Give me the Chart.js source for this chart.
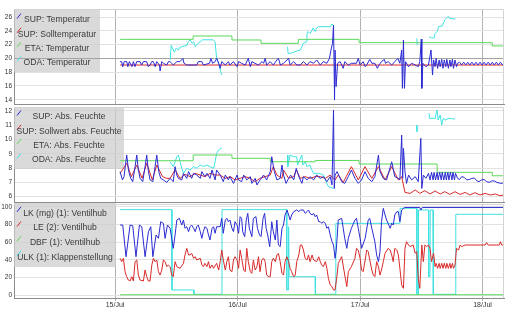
<!DOCTYPE html>
<html>
<head>
<meta charset="utf-8">
<script src="https://cdn.jsdelivr.net/npm/chart.js@4.4.0/dist/chart.umd.min.js"></script>
<style>
html, body { margin: 0; padding: 0; background: #fff; }
#wrap { position: relative; width: 508px; height: 322px; }
canvas { position: absolute; left: 0; top: 0; }
</style>
</head>
<body>
<div id="wrap">
  <canvas id="tempChart" width="508" height="322"></canvas>
  <canvas id="humChart" width="508" height="322"></canvas>
  <canvas id="valveChart" width="508" height="322"></canvas>
</div>
<script>
// x values are hours since 15/Jul 00:00
const dayTicks = [0, 24, 48, 72];
const dayLabels = ['15/Jul', '16/Jul', '17/Jul', '18/Jul'];
const seriesColors = ['#2a2ad2', '#d82a2a', '#5cd85c', '#40e2e2'];

// --- panel 1: temperatures ---
const tempLabels = ['SUP: Temperatur', 'SUP: Solltemperatur', 'ETA: Temperatur', 'ODA: Temperatur'];
const tempTicks = [14, 16, 18, 20, 22, 24, 26];
const supTemp = [[0.98,19.53],[1.3,19.53],[1.5,18.8],[1.8,19.53],[2.3,19.53],[2.5,18.8],[2.8,19.53],[3.3,18.8],[3.6,19.53],[3.9,18.8],[4.25,19.53],[4.9,19.53],[5.2,19.04],[5.55,19.53],[6.2,19.53],[6.5,18.8],[6.86,19.04],[7.2,19.53],[7.51,19.53],[7.85,18.8],[8.17,19.53],[8.7,19.04],[8.82,18.17],[9.15,19.53],[9.47,19.29],[10.13,19.04],[10.45,19.53],[10.78,19.53],[11.1,19.29],[11.4,19.04],[12.1,19.53],[12.7,19.53],[13.3,20.0],[13.5,19.29],[14.05,19.04],[15.4,19.04],[16.0,19.04],[16.3,19.53],[17.0,19.53],[17.3,19.04],[18.5,19.29],[18.8,20.0],[19.1,19.29],[19.6,19.53],[19.9,20.0],[20.3,19.29],[20.6,18.56],[20.9,19.53],[21.6,19.04],[22.2,19.53],[22.5,19.04],[23.2,19.53],[23.9,18.8],[24.2,19.53],[24.8,19.29],[25.5,19.04],[26.1,20.0],[26.5,18.8],[26.8,19.53],[27.4,19.29],[28.1,19.04],[28.8,19.53],[29.1,19.29],[29.4,20.0],[29.7,19.04],[30.4,19.53],[31.0,19.04],[31.7,19.77],[32.0,20.0],[32.4,19.04],[33.0,19.29],[34.0,20.0],[34.3,19.04],[35.0,19.53],[35.6,19.04],[36.3,19.04],[36.9,19.53],[37.6,19.04],[38.2,19.53],[38.9,19.29],[39.5,19.77],[40.2,19.04],[40.8,19.53],[41.5,19.29],[42.0,20.0],[42.3,21.2],[42.6,22.2],[42.8,24.8],[43.0,14.0],[43.1,21.2],[43.3,15.9],[43.6,19.29],[44.1,19.53],[44.4,19.04],[44.7,18.56],[45.0,19.53],[45.7,19.04],[46.3,19.29],[47.3,19.29],[47.65,20.0],[48.0,19.04],[48.6,19.53],[49.0,18.8],[49.3,19.04],[49.9,19.86],[50.3,19.29],[50.9,19.29],[51.4,18.56],[51.7,19.04],[52.2,19.53],[52.75,19.86],[53.0,19.29],[53.5,19.53],[54.2,19.04],[54.8,19.53],[55.4,20.0],[55.8,19.29],[56.15,21.22],[56.3,15.66],[56.5,22.67],[56.7,15.66],[56.9,19.53],[57.5,18.8],[58.1,19.29],[58.8,19.04],[59.4,18.8],[59.7,19.53],[60.0,22.81],[60.1,15.66],[60.3,19.29],[60.9,18.8],[61.4,19.04],[61.9,21.22],[62.2,17.6],[62.4,19.77],[62.7,18.8],[62.9,20.0],[63.2,18.56],[63.5,19.77],[63.7,18.8],[64.0,19.86],[64.25,18.56],[64.5,19.77],[64.8,18.8],[65.0,19.86],[65.3,18.56],[65.6,19.77],[65.8,18.8],[66.1,19.86],[66.3,18.56],[66.6,19.77],[66.9,18.8],[67.1,19.29],[67.5,19.45],[67.9,19.05],[68.3,19.45],[68.7,19.05],[69.1,19.45],[69.5,19.05],[69.9,19.45],[70.3,19.05],[70.7,19.45],[71.1,19.05],[71.5,19.45],[71.9,19.05],[72.3,19.45],[72.7,19.05],[73.1,19.45],[73.5,19.05],[73.9,19.45],[74.3,19.05],[74.7,19.45],[75.1,19.05],[75.5,19.45],[75.9,19.05],[76.2,19.3]];
const supSollTemp = [[1.0,19.04],[76.2,19.04]];
const etaTemp = [[1.0,22.76],[15.3,23.25],[22.9,22.67],[28.6,22.18],[35.9,22.76],[47.8,22.28],[73.9,21.8],[76.2,21.8]];
const odaTemp = [[10.8,19.8],[11.0,21.9],[11.6,20.9],[12.0,21.5],[12.4,21.2],[12.7,21.6],[13.1,21.7],[14.1,21.9],[14.3,22.4],[14.7,22.7],[15.1,22.2],[15.4,22.4],[15.7,21.7],[16.3,22.2],[16.7,22.4],[17.1,22.7],[19.2,22.7],[19.6,22.4],[19.9,20.0],[20.2,19.5],[20.6,18.3],[20.9,17.6],[21.0,null],[33.8,21.7],[33.9,20.7],[34.7,20.8],[35.7,21.1],[36.3,21.2],[36.6,21.7],[36.9,22.2],[37.5,22.4],[37.6,23.6],[37.8,23.9],[38.2,23.6],[38.6,24.1],[38.8,24.4],[39.2,23.9],[39.5,24.4],[39.9,24.6],[42.2,24.6],[42.5,25.0],[42.8,24.7],[43.0,null],[59.1,22.9],[59.2,21.9],[59.3,null],[61.5,23.15],[62.0,22.96],[62.5,22.96],[62.7,23.6],[63.1,23.9],[63.4,24.6],[64.1,24.7],[64.6,25.6],[65.3,26.1],[65.5,25.8],[66.7,25.7]];

// --- panel 2: absolute humidity ---
const humLabels = ['SUP: Abs. Feuchte', 'SUP: Sollwert abs. Feuchte', 'ETA: Abs. Feuchte', 'ODA: Abs. Feuchte'];
const humTicks = [6, 7, 8, 9, 10, 11, 12];
const supHum = [[0.98,7.75],[1.44,7.17],[1.76,7.4],[2.28,8.91],[2.68,7.75],[3.07,7.28],[3.46,7.05],[3.92,8.1],[4.25,8.91],[4.57,7.86],[4.9,7.28],[5.42,7.05],[5.88,8.1],[6.2,8.91],[6.54,7.75],[6.86,7.17],[7.4,7.05],[7.84,8.1],[8.17,8.91],[8.56,7.75],[8.95,7.28],[9.47,7.17],[10.13,7.0],[10.78,7.28],[11.4,7.05],[11.76,8.1],[12.1,7.51],[12.4,7.28],[13.07,7.17],[13.4,7.63],[14.05,7.28],[14.4,7.75],[15.0,7.28],[15.4,7.63],[16.0,7.51],[16.7,7.28],[17.0,7.75],[17.6,7.4],[18.0,7.63],[18.6,7.28],[19.0,7.86],[19.6,7.17],[19.9,7.86],[20.6,7.51],[21.2,7.05],[21.6,7.51],[22.2,7.17],[22.5,7.4],[23.2,6.93],[23.9,7.51],[24.2,7.17],[24.8,7.05],[25.2,7.51],[25.8,7.17],[26.5,7.4],[26.8,6.93],[27.45,7.28],[27.8,6.82],[28.4,7.17],[29.1,7.51],[29.7,7.17],[30.4,7.75],[30.7,8.79],[31.2,7.75],[31.7,7.17],[32.35,7.28],[32.7,8.21],[33.0,7.51],[33.5,6.93],[34.0,7.28],[34.4,7.51],[35.0,7.17],[35.5,7.98],[36.0,7.4],[36.6,6.93],[36.9,7.4],[37.6,7.17],[38.2,7.4],[38.9,7.17],[39.5,7.51],[40.2,7.28],[40.8,7.4],[41.5,7.05],[42.15,7.4],[42.5,6.82],[42.8,12.05],[42.95,6.58],[43.1,7.51],[43.5,7.75],[44.4,7.05],[45.0,6.93],[45.7,7.4],[46.3,7.86],[47.0,7.28],[47.65,6.93],[48.3,7.17],[48.96,7.75],[49.6,7.28],[50.3,7.05],[50.9,7.4],[51.6,8.91],[51.9,7.75],[52.55,7.28],[53.2,7.17],[54.2,8.44],[54.8,7.4],[55.5,7.28],[55.8,7.17],[56.15,10.3],[56.35,7.28],[56.5,9.37],[56.8,7.75],[57.1,6.93],[57.5,7.51],[58.1,7.17],[58.8,7.4],[59.4,7.05],[59.9,10.07],[60.1,6.58],[60.4,7.51],[60.9,7.28],[61.4,7.63],[61.7,7.17],[62.0,7.7],[62.3,7.17],[62.5,7.7],[62.8,7.17],[63.1,7.7],[63.3,7.17],[63.6,7.7],[63.9,7.17],[64.1,7.7],[64.4,7.17],[64.7,7.7],[64.9,7.17],[65.2,7.7],[65.4,7.17],[65.7,7.7],[66.0,7.17],[66.2,7.7],[66.5,7.17],[66.7,7.63],[67.1,7.28],[67.5,7.2],[67.9,7.4],[68.4,7.35],[68.9,7.17],[69.4,7.2],[69.9,7.28],[70.4,7.3],[70.9,7.1],[71.3,7.05],[71.8,7.17],[72.3,7.2],[72.8,7.05],[73.3,7.0],[73.8,7.1],[74.3,7.1],[74.8,7.0],[75.3,6.95],[75.8,6.93],[76.2,7.0]];
const supSollHum = [[0.98,7.63],[2.3,8.33],[3.2,7.4],[4.25,8.21],[5.3,7.28],[6.2,8.33],[7.3,7.17],[8.17,8.21],[9.3,7.4],[10.13,7.28],[10.78,7.28],[11.76,7.86],[12.74,7.28],[13.72,7.56],[14.7,7.4],[15.68,7.63],[16.66,7.51],[17.64,7.4],[18.62,7.63],[19.6,7.51],[20.58,7.51],[21.56,7.28],[22.54,7.4],[23.5,7.17],[24.5,7.28],[25.5,7.4],[26.47,7.28],[27.45,7.05],[28.4,7.28],[29.4,7.4],[30.4,7.51],[31.0,8.1],[31.7,7.51],[32.7,7.28],[33.0,7.86],[34.0,7.28],[35.0,7.4],[35.5,7.86],[36.3,7.28],[37.25,7.4],[38.2,7.28],[39.2,7.4],[40.2,7.4],[41.2,7.28],[42.15,7.51],[43.1,7.17],[43.73,7.51],[44.7,7.0],[46.3,8.1],[47.65,7.17],[48.96,8.1],[50.3,7.28],[51.6,8.1],[52.9,7.17],[54.2,8.1],[55.5,7.17],[56.15,7.4],[56.8,6.3],[57.8,6.23],[58.8,6.47],[59.7,6.23],[60.7,6.42],[61.7,6.19],[62.7,6.4],[63.7,6.19],[64.6,6.35],[65.6,6.16],[66.6,6.35],[67.6,6.16],[68.6,6.3],[69.5,6.12],[70.5,6.28],[71.5,6.12],[72.5,6.23],[73.5,6.12],[74.5,6.19],[75.4,6.07],[76.2,6.12]];
const etaHum = [[1.0,8.51],[15.3,8.91],[22.9,8.68],[30.4,8.44],[39.2,8.53],[47.8,8.28],[63.1,7.7],[73.9,7.46],[76.2,7.46]];
const odaHum = [[10.78,8.44],[11.4,8.1],[12.1,8.79],[12.4,8.91],[12.74,8.44],[13.07,7.98],[13.4,7.63],[14.05,7.98],[14.7,7.86],[15.4,8.1],[16.0,7.98],[16.66,8.21],[17.3,8.1],[18.0,8.21],[18.6,8.1],[19.3,7.98],[19.6,8.44],[19.9,9.03],[20.3,9.26],[20.6,9.37],[20.9,9.37],[21.0,null],[33.8,8.91],[33.85,8.1],[34.3,8.91],[35.0,8.79],[35.6,8.79],[35.75,8.21],[36.6,8.91],[36.8,8.21],[37.25,8.44],[37.6,8.1],[38.2,8.21],[38.55,7.86],[38.9,7.63],[39.9,7.63],[40.85,7.51],[41.5,6.93],[41.8,6.7],[42.8,6.58],[43.0,null],[59.1,11.0],[59.15,10.54],[59.3,null],[61.5,11.82],[61.6,11.47],[62.7,11.47],[62.8,11.7],[63.1,12.05],[63.3,11.35],[63.7,11.7],[64.0,11.0],[64.3,11.47],[64.8,11.35],[65.3,11.47],[66.6,11.42]];

// --- panel 3: valves ---
const valveLabels = ['LK (mg) (1): Ventilhub', 'LE (2): Ventilhub', 'DBF (1): Ventilhub', 'ULK (1): Klappenstellung'];
const valveTicks = [0, 20, 40, 60, 80, 100];
const lkValve = [[0.98,79.5],[1.5,79.5],[2.15,43.5],[2.94,79.5],[3.46,78.8],[4.1,43.5],[4.77,79.5],[5.23,77.6],[5.88,43.5],[6.54,72.0],[7.0,77.6],[7.4,43.5],[8.04,68.2],[8.5,64.4],[8.95,83.3],[9.47,81.4],[9.8,64.4],[10.26,79.5],[10.78,75.8],[11.3,56.8],[11.4,53.0],[11.76,68.2],[12.1,85.2],[12.6,87.1],[13.07,79.5],[13.4,85.2],[13.7,75.8],[14.05,77.6],[14.4,72.0],[14.7,77.6],[15.0,79.5],[15.4,75.8],[15.7,72.0],[16.0,77.6],[16.3,79.5],[16.7,72.0],[17.0,64.4],[17.3,72.0],[17.6,77.6],[18.0,75.8],[18.3,68.2],[18.6,62.5],[19.0,75.8],[19.3,77.6],[19.6,70.1],[19.9,77.6],[20.6,77.6],[20.9,87.1],[21.2,70.1],[21.6,85.2],[21.9,87.1],[22.2,83.3],[22.5,85.2],[22.9,75.8],[23.2,72.0],[23.5,83.3],[23.9,79.5],[24.2,70.1],[24.5,89.0],[24.8,87.1],[25.0,72.0],[25.4,66.3],[25.7,85.2],[26.0,92.8],[26.3,75.8],[26.8,66.3],[27.1,87.1],[27.6,89.0],[27.9,75.8],[28.3,68.2],[28.6,66.3],[29.0,87.1],[29.3,92.8],[29.6,75.8],[29.9,68.2],[30.3,54.9],[30.7,83.3],[31.0,72.0],[31.4,62.5],[31.7,85.2],[32.0,56.8],[32.35,54.9],[32.7,75.8],[33.0,79.5],[33.3,90.9],[33.7,96.6],[34.0,90.9],[34.3,85.2],[34.6,90.9],[35.0,94.7],[35.6,96.6],[36.0,94.7],[36.3,96.6],[36.9,96.6],[37.25,92.8],[37.6,94.7],[37.9,96.6],[38.2,92.8],[38.6,90.9],[38.9,92.8],[39.2,89.0],[39.5,90.9],[39.9,83.3],[40.2,83.3],[40.5,81.4],[40.8,83.3],[41.2,81.4],[41.5,75.8],[41.8,77.6],[42.15,68.2],[42.5,60.6],[42.8,56.8],[43.1,41.7],[43.3,49.2],[43.5,64.4],[43.73,85.2],[44.4,87.1],[44.7,75.8],[45.0,64.4],[45.4,53.0],[45.7,64.4],[46.3,75.8],[47.0,85.2],[47.3,87.1],[47.65,75.8],[48.0,64.4],[48.3,53.0],[49.0,64.4],[49.6,85.2],[49.9,87.1],[50.3,75.8],[50.9,60.6],[51.25,45.5],[51.6,37.9],[51.9,49.2],[52.2,83.3],[52.55,98.5],[52.9,90.9],[53.2,85.2],[53.5,81.4],[53.9,75.8],[54.2,81.4],[54.5,79.5],[54.8,90.9],[55.2,94.7],[55.5,94.7],[55.8,83.3],[56.15,96.6],[56.5,98.5],[56.8,99.5],[59.7,99.5],[59.9,96.6],[60.2,99.5],[76.2,99.5]];
const leValve = [[0.98,41.7],[1.3,37.9],[1.63,41.7],[1.96,26.5],[2.28,20.8],[2.6,17.0],[2.94,15.9],[3.27,20.8],[3.59,15.9],[3.92,37.9],[4.25,39.8],[4.57,22.7],[4.9,17.0],[5.55,15.9],[5.88,28.4],[6.2,20.8],[6.54,15.9],[6.86,15.9],[7.2,34.1],[7.51,41.7],[7.84,37.9],[8.17,39.8],[8.5,26.5],[8.82,22.7],[9.15,28.4],[9.47,39.8],[9.8,37.9],[10.13,32.2],[10.45,34.1],[10.78,32.2],[11.1,22.7],[11.4,20.8],[11.76,37.9],[12.1,32.2],[12.74,30.3],[13.4,36.0],[13.7,45.5],[14.05,53.0],[14.4,45.5],[14.7,45.5],[15.0,47.4],[15.4,41.7],[15.7,43.5],[16.0,39.8],[16.7,41.7],[17.0,34.1],[17.3,32.2],[17.6,36.0],[18.0,32.2],[18.3,37.9],[18.6,30.3],[19.0,34.1],[19.3,30.3],[19.9,36.0],[20.3,28.4],[20.6,37.9],[20.9,51.1],[21.2,39.8],[21.6,28.4],[21.9,37.9],[22.2,43.5],[22.5,28.4],[22.9,26.5],[23.2,39.8],[23.5,43.5],[23.9,39.8],[24.2,30.3],[24.5,51.1],[24.8,41.7],[25.2,28.4],[25.5,26.5],[25.8,53.0],[26.1,37.9],[26.5,26.5],[26.8,24.6],[27.1,39.8],[27.45,28.4],[27.8,32.2],[28.1,43.5],[28.4,26.5],[28.75,39.8],[29.1,41.7],[29.4,37.9],[29.7,22.7],[30.1,20.8],[30.4,20.8],[30.7,37.9],[31.0,41.7],[31.4,37.9],[31.7,45.5],[32.0,47.4],[32.35,37.9],[32.7,24.6],[33.0,22.7],[33.3,37.9],[33.65,43.5],[34.0,37.9],[34.3,30.3],[34.6,26.5],[35.0,20.8],[35.3,22.7],[35.6,37.9],[36.0,45.5],[36.3,56.8],[36.6,56.8],[36.9,51.1],[37.25,41.7],[37.6,39.8],[37.9,45.5],[38.2,37.9],[38.6,45.5],[38.9,39.8],[39.5,37.9],[39.9,43.5],[40.2,37.9],[40.5,34.1],[40.8,32.2],[41.2,37.9],[41.5,30.3],[41.8,18.9],[42.15,11.4],[42.5,9.5],[42.8,5.7],[43.1,5.7],[43.5,22.7],[43.73,36.0],[44.4,43.5],[45.0,22.7],[45.4,9.5],[45.7,26.5],[46.3,32.2],[47.0,41.7],[47.3,53.0],[47.65,51.1],[48.0,41.7],[48.3,28.4],[48.6,26.5],[49.0,39.8],[49.3,51.1],[49.6,49.2],[49.9,39.8],[50.3,28.4],[50.6,22.7],[50.9,20.8],[51.25,37.9],[51.6,32.2],[51.9,22.7],[52.2,28.4],[52.55,37.9],[52.9,47.4],[53.5,53.0],[53.9,51.1],[54.2,45.5],[54.5,37.9],[54.8,53.0],[55.2,51.1],[55.5,45.5],[55.8,30.3],[56.15,11.4],[56.5,7.6],[56.8,53.0],[57.1,60.6],[57.5,56.8],[57.8,54.9],[58.4,56.8],[58.8,47.4],[59.1,49.2],[59.4,18.9],[59.7,7.6],[60.1,56.8],[60.4,37.9],[60.7,56.8],[61.05,54.9],[61.4,56.8],[61.7,53.0],[62.0,37.9],[62.4,47.4],[62.7,32.2],[62.9,36.0],[63.2,30.3],[63.5,36.0],[63.7,30.3],[64.0,36.0],[64.25,30.3],[64.5,36.0],[64.8,30.3],[65.0,36.0],[65.3,30.3],[65.6,36.0],[65.8,30.3],[66.1,36.0],[66.3,30.3],[66.6,34.1],[66.9,53.0],[67.3,51.1],[67.6,56.8],[67.9,54.9],[68.6,56.8],[72.5,56.8],[72.8,59.5],[73.1,56.8],[75.3,56.8],[75.5,60.6],[75.75,56.8],[76.2,56.8]];
const dbfValve = [[1.0,0.3],[76.2,0.3]];
const ulkFlap = [[1.0,97],[11.1,97],[11.15,5.7],[15.4,5.7],[15.45,0.8],[20.9,0.8],[20.95,97],[33.6,97],[33.65,5.7],[33.9,5.7],[34.0,77.6],[34.1,20.8],[39.2,20.8],[39.25,0.8],[43.2,0.8],[43.25,81.4],[55.8,81.4],[55.85,98.5],[59.1,98.5],[59.15,0.8],[59.4,0.8],[59.45,96.6],[61.4,96.6],[61.45,20.8],[61.7,20.8],[61.75,96.6],[62.3,96.6],[62.35,0.8],[66.7,0.8],[66.75,91.7],[76.2,91.7]];

// grey legend box drawn inside the plot, plus light frame on top/right
const panelBox = {
  id: 'panelBox',
  beforeDatasetsDraw(chart, args, opts) {
    const ctx = chart.ctx;
    const area = chart.chartArea;
    const x0 = area.left, y0 = area.top + opts.offsetY;
    ctx.save();
    ctx.fillStyle = 'rgba(204,204,204,0.72)';
    ctx.fillRect(x0, y0, opts.width, opts.height);
    if (opts.refLine !== undefined) {
      const yy = Math.round(chart.scales.y.getPixelForValue(opts.refLine)) + 0.5;
      ctx.strokeStyle = '#a4a4a4';
      ctx.lineWidth = 1;
      ctx.beginPath();
      ctx.moveTo(area.left, yy);
      ctx.lineTo(area.right, yy);
      ctx.stroke();
    }
    ctx.font = opts.font;
    ctx.textAlign = 'center';
    ctx.textBaseline = 'middle';
    chart.data.datasets.forEach((ds, i) => {
      const ry = area.top + opts.firstRow + i * opts.rowH;
      ctx.strokeStyle = ds.borderColor;
      ctx.beginPath();
      ctx.moveTo(x0 + 3, ry - 1.5);
      ctx.lineTo(x0 + 7, ry - 6.5);
      ctx.stroke();
      ctx.fillStyle = '#3a3a3a';
      ctx.fillText(ds.label, x0 + opts.width / 2, ry);
    });
    ctx.restore();
  },
  afterDraw(chart) {
    const ctx = chart.ctx;
    const a = chart.chartArea;
    ctx.save();
    ctx.strokeStyle = '#d4d4d4';
    ctx.lineWidth = 1;
    ctx.beginPath();
    ctx.moveTo(a.left, Math.round(a.top) + 0.5);
    ctx.lineTo(Math.round(a.right) - 0.5, Math.round(a.top) + 0.5);
    ctx.lineTo(Math.round(a.right) - 0.5, a.bottom);
    ctx.stroke();
    ctx.restore();
  }
};

function buildPanel(id, cfg) {
  return new Chart(document.getElementById(id), {
    type: 'line',
    data: {
      datasets: cfg.series.map((s, i) => ({
        label: cfg.labels[i],
        data: s.map(p => ({ x: p[0], y: p[1] })),
        borderColor: seriesColors[i],
        borderWidth: 1,
        pointRadius: 0,
        tension: 0,
        stepped: cfg.stepped === i,
        spanGaps: false
      }))
    },
    options: {
      responsive: false,
      animation: false,
      devicePixelRatio: 1,
      layout: { padding: { top: cfg.top, bottom: cfg.bottom, left: 0, right: 4 } },
      plugins: {
        legend: { display: false },
        tooltip: { enabled: false },
        panelBox: cfg.box
      },
      scales: {
        x: {
          type: 'linear',
          min: -19.8,
          max: 76.2,
          afterBuildTicks: s => { s.ticks = dayTicks.map(v => ({ value: v })); },
          afterFit: s => { s.height = cfg.showX ? 12 : 0; },
          ticks: {
            display: cfg.showX,
            autoSkip: false,
            maxRotation: 0,
            padding: 0,
            color: '#333',
            font: { family: 'Liberation Sans', size: 7 },
            callback: v => dayLabels[dayTicks.indexOf(v)]
          },
          grid: { color: '#b2b2b2', drawTicks: cfg.showX, tickLength: 3 },
          border: { color: '#8c8c8c' }
        },
        y: {
          min: cfg.min,
          max: cfg.max,
          afterBuildTicks: s => { s.ticks = cfg.ticks.map(v => ({ value: v })); },
          afterFit: s => { s.width = 14; },
          ticks: {
            autoSkip: false,
            padding: 2,
            color: '#333',
            font: { family: 'Liberation Sans', size: 6.5 },
            callback: v => String(v)
          },
          grid: { color: '#e2e2e2', drawTicks: false },
          border: { color: '#8c8c8c' }
        }
      }
    },
    plugins: [panelBox]
  });
}

const legendFont = '8.6px "Liberation Sans", Arial, sans-serif';

buildPanel('tempChart', {
  labels: tempLabels,
  series: [supTemp, supSollTemp, etaTemp, odaTemp],
  ticks: tempTicks, min: 13.39, max: 27.16,
  top: 9, bottom: 218, showX: false, stepped: 2,
  box: { width: 86, height: 62, offsetY: 1, firstRow: 11, rowH: 14.3, font: legendFont, refLine: 20 }
});

buildPanel('humChart', {
  labels: humLabels,
  series: [supHum, supSollHum, etaHum, odaHum],
  ticks: humTicks, min: 5.63, max: 12.26,
  top: 107, bottom: 120, showX: false, stepped: 2,
  box: { width: 110, height: 62, offsetY: 0, firstRow: 10, rowH: 14.3, font: legendFont }
});

buildPanel('valveChart', {
  labels: valveLabels,
  series: [lkValve, leValve, dbfValve, ulkFlap],
  ticks: valveTicks, min: -3.4, max: 103.4,
  top: 204, bottom: 12, showX: true, stepped: -1,
  box: { width: 102, height: 64, offsetY: -1, firstRow: 9.3, rowH: 14.7, font: legendFont }
});
</script>
</body>
</html>
